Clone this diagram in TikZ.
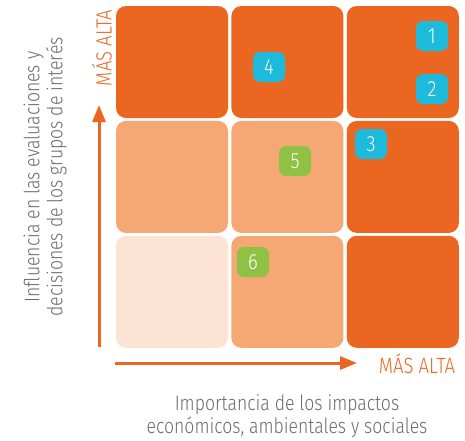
\documentclass[tikz,border=0pt]{standalone}
\usepackage{fontspec}
\setmainfont{Fira Sans Light}[FakeStretch=0.84]
\usetikzlibrary{positioning,arrows.meta}
\definecolor{darkorange}{HTML}{EB6721}
\definecolor{midorange}{HTML}{F5A873}
\definecolor{lightorange}{HTML}{FCE3D3}
\definecolor{badgeblue}{HTML}{1DBADB}
\definecolor{badgegreen}{HTML}{8EC144}
\definecolor{labelgray}{HTML}{6B6B6B}

\begin{document}
\begin{tikzpicture}[x=1pt, y=-1pt, node distance=2.5pt and 3pt,
    cell/.style={rectangle, rounded corners=10pt, minimum width=112pt, minimum height=112pt, inner sep=0pt},
    badge/.style={rectangle, rounded corners=7pt, minimum width=32pt, minimum height=30pt, inner sep=0pt, text=white, font=\fontsize{22}{22}\selectfont},
    axis/.style={draw=darkorange, line width=3pt, -{Triangle[length=17pt,width=13pt]}},
    axislabel/.style={text=darkorange, font=\fontsize{22}{22}\selectfont},
    title/.style={text=labelgray, align=center, font=\fontsize{21}{23}\selectfont}]
    \useasboundingbox (0,0) rectangle (465,440);
    % Cells
    \node[cell, fill=darkorange] (c11) at (172,62) {};
    \node[cell, fill=darkorange, right=of c11] (c12) {};
    \node[cell, fill=darkorange, right=of c12] (c13) {};
    \node[cell, fill=midorange, below=of c11] (c21) {};
    \node[cell, fill=midorange, right=of c21] (c22) {};
    \node[cell, fill=darkorange, right=of c22] (c23) {};
    \node[cell, fill=lightorange, below=of c21] (c31) {};
    \node[cell, fill=midorange, right=of c31] (c32) {};
    \node[cell, fill=darkorange, right=of c32] (c33) {};

    % Badges
    \node[badge, fill=badgeblue] (b1) at (432,36) {1};
    \node[badge, fill=badgeblue] (b2) at (432,89) {2};
    \node[badge, fill=badgeblue] (b3) at (371,144) {3};
    \node[badge, fill=badgeblue] (b4) at (269,67) {4};
    \node[badge, fill=badgegreen] (b5) at (295,161) {5};
    \node[badge, fill=badgegreen] (b6) at (253,262) {6};

    % Axes
    \coordinate (ystart) at (99,347);
    \coordinate (yend) at (99,105);
    \coordinate (xstart) at (115,363);
    \coordinate (xend) at (357,363);
    \draw[axis] (ystart) -- (yend);
    \draw[axis] (xstart) -- (xend);
    \node[axislabel, rotate=90] (ylab) at (102,48) {MÁS ALTA};
    \node[axislabel] (xlab) at (417,364) {MÁS ALTA};

    % Titles
    \node[title, rotate=90] (ytitle) at (45,177) {Influencia en las evaluaciones y\\decisiones de los grupos de interés};
    \node[title] (xtitle) at (287,416) {Importancia de los impactos\\económicos, ambientales y sociales};
\end{tikzpicture}
\end{document}
